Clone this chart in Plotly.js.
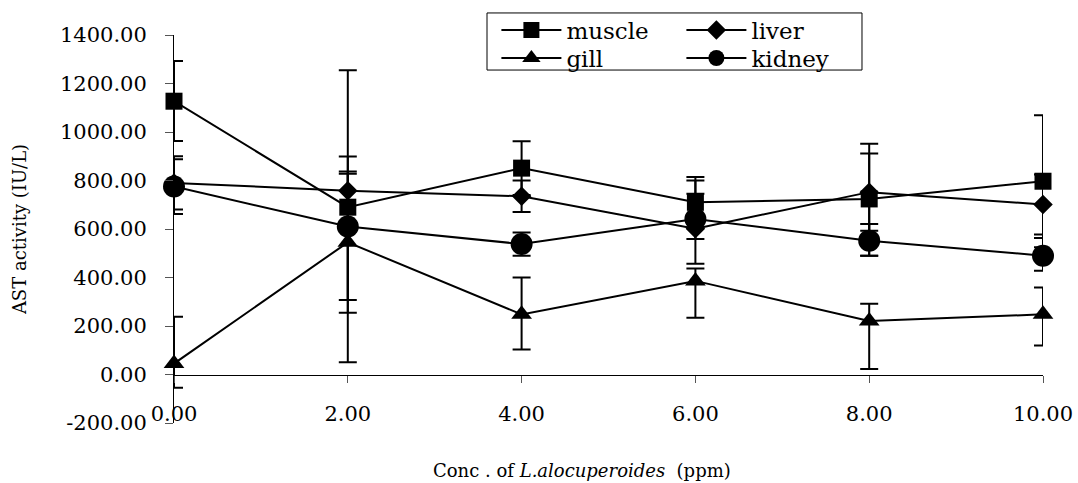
<!DOCTYPE html>
<html>
<head>
<meta charset="utf-8">
<script src="https://cdn.plot.ly/plotly-3.0.1.min.js"></script>
<style>html,body{margin:0;padding:0;background:#fff}#chart{width:1078px;height:483px}</style>
</head>
<body>
<div id="chart"></div>
<script>
const conc = [0, 2, 4, 6, 8, 10];
const xTickLabels = ["0.00", "2.00", "4.00", "6.00", "8.00", "10.00"];
const yTickVals = [-200, 0, 200, 400, 600, 800, 1000, 1200, 1400];
const yTickLabels = ["-200.00", "0.00", "200.00", "400.00", "600.00", "800.00", "1000.00", "1200.00", "1400.00"];

const muscle = [1127, 690, 851, 710, 724, 797];
const musclePlus = [166, 138, 111, 104, 228, 272];
const muscleMinus = [164, 383, 111, 104, 234, 272];

const liver = [790, 758, 735, 601, 752, 701];
const liverPlus = [110, 141, 65, 144, 159, 124];
const liverMinus = [110, 141, 65, 144, 159, 124];

const gill = [45, 545, 248, 386, 221, 248];
const gillPlus = [193, 710, 152, 51, 71, 111];
const gillMinus = [100, 494, 145, 152, 198, 128];

const kidney = [775, 610, 538, 641, 552, 490];
const kidneyPlus = [113, 227, 48, 159, 69, 73];
const kidneyMinus = [113, 355, 48, 82, 62, 62];

const FONT = "DejaVu Serif";

function tr(name, y, plus, minus, symbol, size, legend) {
  return {
    type: "scatter", mode: "lines+markers", name: name, x: conc, y: y,
    line: {color: "#000", width: 2},
    marker: {symbol: symbol, size: size, color: "#000"},
    error_y: {type: "data", symmetric: false, array: plus, arrayminus: minus,
              color: "#000", thickness: 2, width: 9},
    cliponaxis: false, legend: legend
  };
}

const data = [
  tr("muscle", muscle, musclePlus, muscleMinus, "square", 17, "legend"),
  tr("liver", liver, liverPlus, liverMinus, "diamond", 15, "legend"),
  tr("gill", gill, gillPlus, gillMinus, "triangle-up", 18, "legend2"),
  tr("kidney", kidney, kidneyPlus, kidneyMinus, "circle", 22, "legend2")
];

const legendCommon = {
  orientation: "h", xanchor: "left", yanchor: "middle",
  bgcolor: "rgba(0,0,0,0)", borderwidth: 0,
  font: {family: FONT, size: 23, color: "#000"},
  itemwidth: 60, entrywidth: 110, itemsizing: "trace", traceorder: "normal"
};

const layout = {
  width: 1078, height: 483,
  margin: {l: 174, r: 35, t: 35, b: 60, pad: 0, autoexpand: false},
  paper_bgcolor: "#fff", plot_bgcolor: "#fff",
  font: {family: FONT, color: "#000"},
  showlegend: true,
  legend: Object.assign({}, legendCommon, {x: 0.371, y: (422.5 - 30) / 387.5}),
  legend2: Object.assign({}, legendCommon, {x: 0.371, y: (422.5 - 58) / 387.5}),
  xaxis: {
    range: [0, 10], tickvals: conc, ticktext: xTickLabels,
    showgrid: false, zeroline: false,
    showline: true, linecolor: "#000", linewidth: 1,
    ticks: "outside", ticklen: 7, tickcolor: "#555", tickwidth: 1,
    anchor: "free", position: 0.125,
    ticklabelstandoff: 13,
    tickfont: {family: FONT, size: 21, color: "#000"},
    automargin: false
  },
  yaxis: {
    range: [-200, 1400], tickvals: yTickVals, ticktext: yTickLabels,
    showgrid: false, zeroline: false,
    showline: true, linecolor: "#000", linewidth: 1,
    ticks: "outside", ticklen: 8, tickcolor: "#555", tickwidth: 1,
    ticklabelstandoff: 14,
    tickfont: {family: FONT, size: 21, color: "#000"},
    title: {text: "AST activity (IU/L)", font: {family: FONT, size: 18, color: "#000"}, standoff: 28},
    automargin: false
  },
  annotations: [{
    text: "Conc . of <i>L.alocuperoides</i>  (ppm)", xref: "paper", yref: "paper",
    x: (582 - 174) / 869, y: (422.5 - 470) / 387.5, xanchor: "center", yanchor: "middle",
    showarrow: false, font: {family: FONT, size: 18, color: "#000"}
  }],
  shapes: [{
    type: "rect", xref: "paper", yref: "paper",
    x0: 0.3602, x1: 0.7917, y0: 0.9097, y1: 1.0568,
    line: {color: "#000", width: 1}, fillcolor: "rgba(0,0,0,0)", layer: "above"
  }]
};

Plotly.newPlot("chart", data, layout, {displayModeBar: false, staticPlot: true});
</script>
</body>
</html>
